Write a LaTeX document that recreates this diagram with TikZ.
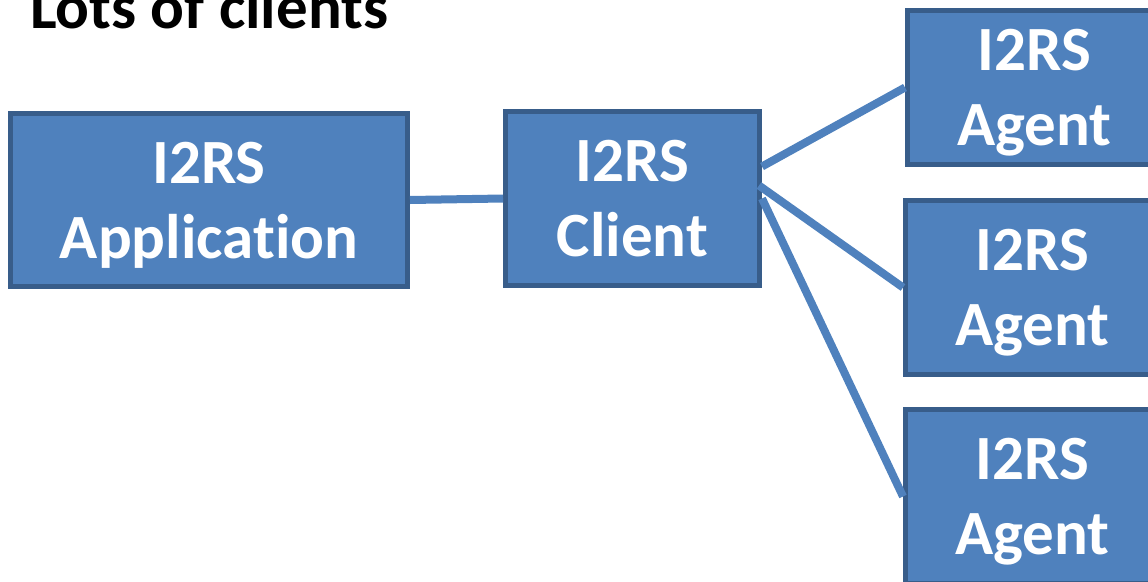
\documentclass[tikz,border=0pt]{standalone}
\usepackage{fontspec}
\setmainfont{Carlito}[Ligatures=NoCommon]
\definecolor{boxfill}{HTML}{4F81BD}
\definecolor{boxline}{HTML}{385D8A}
\newcommand\nodepth[1]{\raisebox{0pt}[\height][0pt]{#1}}
\tikzset{
  blk/.style={rectangle, fill=boxfill, draw=boxline, line width=5pt, text=white,
    font=\fontsize{63}{75}\selectfont\bfseries, align=center, inner sep=0pt},
  link/.style={draw=boxfill, line width=8pt},
  ttl/.style={font=\fontsize{63}{75}\selectfont\bfseries, text=black, inner sep=0pt, anchor=base west}
}
\begin{document}
\begin{tikzpicture}[x=1pt,y=-1pt]
\useasboundingbox (0,0) rectangle (1148,581);
\node[ttl] (title) at (30,28) {Lots of clients};
\node[blk, minimum width=397pt, minimum height=173pt] (app) at (209,200) {I2RS\\\nodepth{Application}};
\node[blk, minimum width=254pt, minimum height=174pt] (client) at (632.5,198.5) {I2RS\\\nodepth{Client}};
\node[blk, minimum width=254pt, minimum height=154pt] (ag1) at (1034.5,87.5) {I2RS\\\nodepth{Agent}};
\node[blk, minimum width=254pt, minimum height=174pt] (ag2) at (1032.5,287.5) {I2RS\\\nodepth{Agent}};
\node[blk, minimum width=254pt, minimum height=174pt] (ag3) at (1032.5,496.5) {I2RS\\\nodepth{Agent}};
\draw[link] (app.east) -- (client.west);
\draw[link] ([yshift=32pt]client.east) -- (ag1.west);
\draw[link] ([xshift=-3pt,yshift=13pt]client.east) -- (ag2.west);
\draw[link] ([yshift=0pt]client.east) -- (ag3.west);
\end{tikzpicture}
\end{document}
